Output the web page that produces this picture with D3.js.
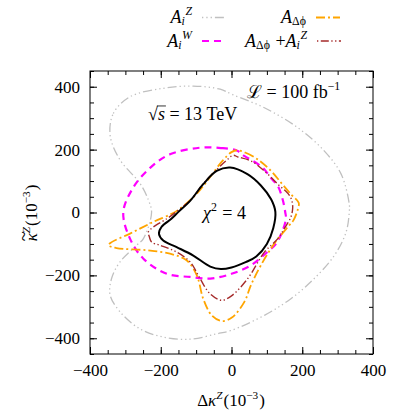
<!DOCTYPE html>
<html>
<head>
<meta charset="utf-8">
<script src="https://cdn.jsdelivr.net/npm/d3@7"></script>
</head>
<body style="margin:0">
<script>
// chi^2 = 4 contours in the (delta kappa Z, kappa tilde Z) plane, units of 10^-3
var width = 412, height = 412;
var FONT = "'Liberation Serif'";

var chi2Combined = [[-4,143],[45,122],[83,86],[112,42],[124,2],[118,-50],[100,-100],[70,-140],[40,-158],[0,-175],[-30,-180],[-60,-172],[-108,-137],[-155,-110],[-193,-89],[-205,-68],[-198,-46],[-170,-20],[-150,2],[-117,37],[-80,90],[-42,132]];
var aiZ = [[-343,245],[-334,315],[-287,368],[-193,395],[-108,402],[-32,392],[3,375],[93,333],[187,270],[262,196],[310,122],[333,26],[333,2],[324,-62],[291,-136],[234,-210],[168,-274],[93,-327],[-1,-375],[-42,-386],[-117,-403],[-193,-396],[-259,-370],[-315,-316],[-343,-263],[-339,-210],[-315,-157],[-268,-104],[-249,-83],[-226,0],[-235,40],[-259,93],[-315,167]];
var aiW = [[-89,206],[-30,205],[15,197],[36,180],[88,143],[111,110],[131,84],[145,40],[152,0],[154,-20],[140,-70],[126,-99],[102,-125],[55,-168],[0,-195],[-60,-210],[-117,-205],[-183,-195],[-249,-147],[-287,-83],[-306,0],[-278,79],[-230,142],[-174,185]];
var aDphi = [[15,198],[40,190],[75,168],[112,132],[140,95],[168,58],[190,31],[188,12],[175,-25],[163,-41],[121,-99],[83,-168],[55,-231],[36,-285],[0,-335],[-28,-345],[-56,-327],[-80,-274],[-98,-200],[-127,-152],[-174,-131],[-240,-120],[-325,-113],[-348,-104],[-340,-95],[-287,-67],[-221,-30],[-169,-4],[-146,12],[-98,60],[-61,112],[-25,165],[0,192]];
var aDphiZ = [[5,182],[17,177],[55,164],[93,132],[131,90],[160,60],[170,40],[173,15],[168,-14],[150,-50],[131,-83],[93,-126],[46,-210],[0,-265],[-28,-279],[-61,-258],[-89,-210],[-117,-157],[-155,-126],[-202,-104],[-226,-94],[-232,-78],[-235,-62],[-221,-46],[-183,-20],[-152,6],[-115,40],[-78,94],[-42,136],[-15,165]];

var majorTicks = [-400, -200, 0, 200, 400];
var minorTicks = d3.range(-400, 401, 50);
var minorTicksY = d3.range(-450, 451, 50);

var margin = { top: 71, left: 90, right: 39, bottom: 58 };

var svg = d3.select("body").append("svg")
  .attr("width", width)
  .attr("height", height);

var xScale = d3.scaleLinear()
  .domain([-400, 400])
  .range([margin.left, width - margin.right]);

var yScale = d3.scaleLinear()
  .domain([-450, 450])
  .range([height - margin.bottom, margin.top]);

var x0 = xScale.range()[0], x1 = xScale.range()[1];
var y0 = yScale.range()[0], y1 = yScale.range()[1];

function styleAxis(g) {
  g.select(".domain").remove();
  g.selectAll("line").attr("stroke", "#000").attr("stroke-width", 1);
  g.selectAll("text").style("font-family", FONT).attr("font-size", 17).attr("fill", "#000");
}

// ticks pointing inward on all four sides
function addAxis(axis, tx, ty) {
  svg.append("g").attr("transform", "translate(" + tx + "," + ty + ")").call(axis).call(styleAxis);
}
addAxis(d3.axisBottom(xScale).tickValues(minorTicks).tickSize(-4).tickFormat(""), 0, y0);
addAxis(d3.axisBottom(xScale).tickValues(majorTicks).tickSize(-7).tickPadding(10), 0, y0);
addAxis(d3.axisTop(xScale).tickValues(minorTicks).tickSize(-4).tickFormat(""), 0, y1);
addAxis(d3.axisTop(xScale).tickValues(majorTicks).tickSize(-7).tickFormat(""), 0, y1);
addAxis(d3.axisLeft(yScale).tickValues(minorTicksY).tickSize(-4).tickFormat(""), x0, 0);
addAxis(d3.axisLeft(yScale).tickValues(majorTicks).tickSize(-7).tickPadding(10), x0, 0);
addAxis(d3.axisRight(yScale).tickValues(minorTicksY).tickSize(-4).tickFormat(""), x1, 0);
addAxis(d3.axisRight(yScale).tickValues(majorTicks).tickSize(-7).tickFormat(""), x1, 0);

// frame
svg.append("rect")
  .attr("x", x0).attr("y", y1)
  .attr("width", x1 - x0).attr("height", y0 - y1)
  .attr("fill", "none").attr("stroke", "#000").attr("stroke-width", 1);

var line = d3.line()
  .x(function(d) { return xScale(d[0]); })
  .y(function(d) { return yScale(d[1]); })
  .curve(d3.curveCatmullRomClosed.alpha(0.5));

var series = [
  { data: aiZ, color: "#c0c0c0", width: 1.3, dash: "1.3 3 1.3 3 1.3 3 9 3" },
  { data: aiW, color: "#ff00ff", width: 2.2, dash: "7 5" },
  { data: aDphi, color: "#ffa500", width: 1.8, dash: "9 3 2 3" },
  { data: aDphiZ, color: "#a52a2a", width: 1.4, dash: "1.3 2.5 8 2.5 1.3 2.5" },
  { data: chi2Combined, color: "#000", width: 2, dash: null }
];

svg.selectAll("path.contour")
  .data(series)
  .enter()
  .append("path")
    .attr("class", "contour")
    .attr("d", function(d) { return line(d.data); })
    .attr("fill", "none")
    .attr("stroke", function(d) { return d.color; })
    .attr("stroke-width", function(d) { return d.width; })
    .attr("stroke-dasharray", function(d) { return d.dash; });

// small math typesetter: text runs, sub/superscripts, tilde and overline
function addText(g, x, y, size, str, italic) {
  return g.append("text")
    .attr("x", x).attr("y", y)
    .attr("font-size", size)
    .attr("font-style", italic ? "italic" : null)
    .style("font-family", FONT)
    .style("white-space", "pre")
    .text(str);
}

function mathText(parent, x, y, parts, size, anchor) {
  var g = parent.append("g");
  var cx = 0, small = size * 0.66;
  parts.forEach(function(p) {
    if (p.sub !== undefined || p.sup !== undefined) {
      var w = 0;
      if (p.sub !== undefined) {
        var ts = addText(g, cx, size * 0.13, small, p.sub, !p.subUp);
        w = ts.node().getComputedTextLength();
      }
      if (p.sup !== undefined) {
        // superscript sits just after the subscript so the two don't collide
        var sh = p.sub !== undefined ? w + 0.5 : 0;
        var tp = addText(g, cx + sh, -size * 0.42, small, p.sup, p.supIt);
        w = sh + tp.node().getComputedTextLength();
      }
      cx += w + 1;
    } else {
      var t = addText(g, cx, 0, size, p.t, p.it);
      var tw = t.node().getComputedTextLength();
      if (p.tilde) {
        addText(g, cx + tw / 2 + 1, -size * 0.42, size * 1.1, "~", false).attr("text-anchor", "middle");
      }
      if (p.over) {
        g.append("line").attr("x1", cx - 1).attr("x2", cx + tw + 1)
          .attr("y1", -size * 0.78).attr("y2", -size * 0.78)
          .attr("stroke", "#000").attr("stroke-width", 0.8);
      }
      cx += tw;
    }
  });
  var off = anchor === "end" ? -cx : anchor === "middle" ? -cx / 2 : 0;
  g.attr("transform", "translate(" + (x + off) + "," + y + ")");
  return g;
}

var NB = "\u00A0";

// annotations in the plot
mathText(svg, 148, 120, [{ t: "√" }, { t: "s", it: true, over: true }, { t: NB + "=" + NB + "13" + NB + "TeV" }], 18, "start");
mathText(svg, 247, 98, [{ t: "ℒ" }, { t: NB + "=" + NB + "100" + NB + "fb" }, { sup: "−1" }], 18, "start");
mathText(svg, 203, 219, [{ t: "χ", it: true }, { sup: "2" }, { t: NB + "=" + NB + "4" }], 18, "start");

// axis titles
mathText(svg, 231, 406, [{ t: "Δ" }, { t: "κ", it: true }, { sup: "Z", supIt: true }, { t: "(10" }, { sup: "−3" }, { t: ")" }], 17, "middle");
var yTitle = svg.append("g").attr("transform", "translate(37,213) rotate(-90)");
mathText(yTitle, 0, 0, [{ t: "κ", it: true, tilde: true }, { sup: "Z", supIt: true }, { t: "(10" }, { sup: "−3" }, { t: ")" }], 17, "middle");

// legend
var legendRows = [
  { parts: [{ t: "A", it: true }, { sub: "i", sup: "Z", supIt: true }], x: 193, y: 23, s: series[0] },
  { parts: [{ t: "A", it: true }, { sub: "i", sup: "W", supIt: true }], x: 193, y: 46.5, s: series[1] },
  { parts: [{ t: "A", it: true }, { sub: "Δϕ", subUp: true }], x: 307, y: 23, s: series[2] },
  { parts: [{ t: "A", it: true }, { sub: "Δϕ", subUp: true }, { t: NB + "+" }, { t: "A", it: true }, { sub: "i", sup: "Z", supIt: true }], x: 308, y: 46.5, s: series[3] }
];

legendRows.forEach(function(r) {
  mathText(svg, r.x, r.y, r.parts, 18, "end");
  svg.append("line")
    .attr("x1", r.x + 9).attr("x2", r.x + 33)
    .attr("y1", r.y - 5.5).attr("y2", r.y - 5.5)
    .attr("stroke", r.s.color)
    .attr("stroke-width", r.s.width)
    .attr("stroke-dasharray", r.s.dash);
});
</script>
</body>
</html>
